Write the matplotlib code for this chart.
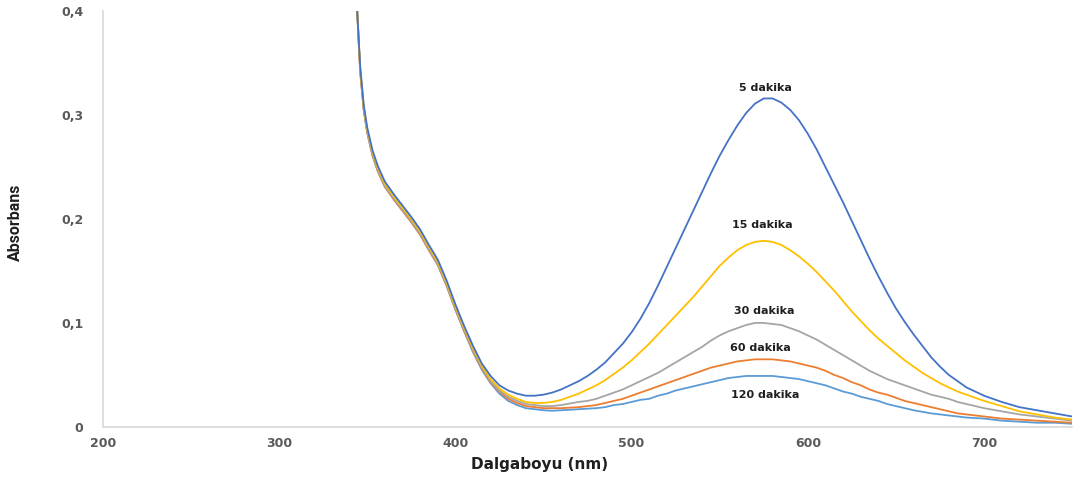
import matplotlib
matplotlib.use("Agg")
import matplotlib.pyplot as plt

# Excel-like palette
BLUE = "#4472C4"
YELLOW = "#FFC000"
GREY = "#A5A5A5"
ORANGE = "#ED7D31"
LBLUE = "#5B9BD5"
TICK = "#595959"
AXIS = "#D9D9D9"
TEXT = "#1F1F1F"

#######################
# DATA

wavelength = [344, 346, 348, 350, 353, 356, 360, 365, 370, 375, 380, 385, 390, 395,
              400, 405, 410, 415, 420, 425, 430, 435, 440, 445, 450, 455, 460,
              470, 475, 480, 485, 490, 495, 500, 505, 510, 515, 520, 525, 530, 535,
              540, 545, 550, 555, 560, 565, 570, 575, 580, 585, 590, 595, 600, 605,
              610, 615, 620, 625, 630, 635, 640, 645, 650, 655, 660, 665, 670, 675,
              680, 685, 690, 695, 700, 710, 720, 730, 740, 750]

abs_5 = [0.410, 0.347, 0.310, 0.288, 0.266, 0.251, 0.236, 0.224, 0.213, 0.202, 0.190,
         0.175, 0.161, 0.141, 0.118, 0.097, 0.078, 0.061, 0.049, 0.040, 0.035, 0.032,
         0.030, 0.030, 0.031, 0.033, 0.036,
         0.044, 0.049, 0.055, 0.062, 0.071, 0.080, 0.091, 0.104, 0.119, 0.136, 0.154,
         0.172, 0.190, 0.208, 0.226, 0.244, 0.261, 0.276, 0.290, 0.302, 0.311, 0.316,
         0.316, 0.312, 0.305, 0.295, 0.282, 0.267, 0.250, 0.233, 0.216, 0.198, 0.180,
         0.162, 0.145, 0.129, 0.114, 0.101, 0.089, 0.078, 0.067, 0.058, 0.050, 0.044,
         0.038, 0.034, 0.030, 0.024, 0.019, 0.016, 0.013, 0.010]

abs_15 = [0.410, 0.345, 0.308, 0.286, 0.264, 0.249, 0.234, 0.222, 0.211, 0.200, 0.188,
          0.173, 0.159, 0.139, 0.116, 0.095, 0.076, 0.059, 0.046, 0.037, 0.031, 0.027,
          0.024, 0.023, 0.023, 0.024, 0.026,
          0.032, 0.036, 0.040, 0.045, 0.051, 0.057, 0.064, 0.072, 0.080, 0.089, 0.098,
          0.107, 0.116, 0.125, 0.135, 0.145, 0.155, 0.163, 0.170, 0.175, 0.178, 0.179,
          0.178, 0.175, 0.170, 0.164, 0.157, 0.149, 0.140, 0.131, 0.121, 0.111, 0.102,
          0.093, 0.085, 0.078, 0.071, 0.064, 0.058, 0.052, 0.047, 0.042, 0.038, 0.034,
          0.031, 0.028, 0.025, 0.020, 0.015, 0.012, 0.009, 0.007]

abs_30 = [0.410, 0.343, 0.306, 0.284, 0.262, 0.247, 0.232, 0.220, 0.209, 0.198, 0.186,
          0.171, 0.157, 0.137, 0.114, 0.093, 0.074, 0.057, 0.044, 0.035, 0.029, 0.025,
          0.022, 0.021, 0.020, 0.020, 0.021,
          0.024, 0.025, 0.027, 0.030, 0.033, 0.036, 0.040, 0.044, 0.048, 0.052, 0.057,
          0.062, 0.067, 0.072, 0.077, 0.083, 0.088, 0.092, 0.095, 0.098, 0.100, 0.100,
          0.099, 0.098, 0.095, 0.092, 0.088, 0.084, 0.079, 0.074, 0.069, 0.064, 0.059,
          0.054, 0.050, 0.046, 0.043, 0.040, 0.037, 0.034, 0.031, 0.029, 0.027, 0.024,
          0.022, 0.020, 0.018, 0.015, 0.012, 0.010, 0.008, 0.006]

abs_60 = [0.410, 0.342, 0.305, 0.283, 0.261, 0.246, 0.231, 0.219, 0.208, 0.197, 0.185,
          0.170, 0.156, 0.136, 0.113, 0.092, 0.073, 0.056, 0.043, 0.034, 0.027, 0.023,
          0.020, 0.019, 0.018, 0.018, 0.018,
          0.019, 0.020, 0.021, 0.023, 0.025, 0.027, 0.030, 0.033, 0.036, 0.039, 0.042,
          0.045, 0.048, 0.051, 0.054, 0.057, 0.059, 0.061, 0.063, 0.064, 0.065, 0.065,
          0.065, 0.064, 0.063, 0.061, 0.059, 0.057, 0.054, 0.050, 0.047, 0.043, 0.040,
          0.036, 0.033, 0.031, 0.028, 0.025, 0.023, 0.021, 0.019, 0.017, 0.015, 0.013,
          0.012, 0.011, 0.010, 0.008, 0.007, 0.006, 0.005, 0.004]

abs_120 = [0.410, 0.342, 0.305, 0.283, 0.261, 0.246, 0.231, 0.219, 0.208, 0.197, 0.185,
           0.170, 0.156, 0.136, 0.113, 0.092, 0.072, 0.055, 0.042, 0.032, 0.025, 0.021,
           0.018, 0.017, 0.016, 0.0155, 0.016,
           0.017, 0.0175, 0.018, 0.019, 0.021, 0.022, 0.024, 0.026, 0.027, 0.030, 0.032,
           0.035, 0.037, 0.039, 0.041, 0.043, 0.045, 0.047, 0.048, 0.049, 0.049, 0.049,
           0.049, 0.048, 0.047, 0.046, 0.044, 0.042, 0.040, 0.037, 0.034, 0.032, 0.029,
           0.027, 0.025, 0.022, 0.020, 0.018, 0.016, 0.0145, 0.013, 0.012, 0.011, 0.010,
           0.009, 0.0085, 0.008, 0.006, 0.005, 0.004, 0.004, 0.003]

labels = ["5 dakika", "15 dakika", "30 dakika", "60 dakika", "120 dakika"]
# where each label sits (nm, absorbance)
label_x = [576, 574, 575, 573, 576]
label_y = [0.326, 0.194, 0.1115, 0.076, 0.031]

x_ticks = [200, 300, 400, 500, 600, 700]
y_ticks = [0, 0.1, 0.2, 0.3, 0.4]
y_tick_labels = ["0", "0,1", "0,2", "0,3", "0,4"]

#######################
# PLOT

fig = plt.figure(figsize=(10.83, 4.84), dpi=100)
ax = fig.add_axes([0.095, 0.118, 0.895, 0.859])

series = [(abs_120, LBLUE), (abs_60, ORANGE), (abs_30, GREY),
          (abs_15, YELLOW), (abs_5, BLUE)]
for values, color in series:
    ax.plot(wavelength, values, color=color, linewidth=1.3)

for text, x, y in zip(labels, label_x, label_y):
    ax.text(x, y, text, ha="center", va="center", fontsize=8,
            fontweight="bold", color=TEXT)

ax.set_xlim(200, 750)
ax.set_ylim(0, 0.4)
ax.set_xticks(x_ticks)
ax.set_yticks(y_ticks)
ax.set_yticklabels(y_tick_labels)

ax.tick_params(axis="x", length=0, pad=7, labelsize=9, labelcolor=TICK)
ax.tick_params(axis="y", length=0, pad=14, labelsize=9, labelcolor=TICK)
for lab in ax.get_xticklabels() + ax.get_yticklabels():
    lab.set_fontweight("bold")

for side in ["top", "right"]:
    ax.spines[side].set_visible(False)
for side in ["left", "bottom"]:
    ax.spines[side].set_color(AXIS)
    ax.spines[side].set_linewidth(1.2)

ax.set_xlabel("Dalgaboyu (nm)", fontsize=11, fontweight="bold", color=TEXT)
ax.xaxis.set_label_coords(0.45, -0.072)
ax.set_ylabel("Absorbans", fontsize=11.5, color=TEXT, fontweight="bold",
              family=["Liberation Sans Narrow", "Roboto"])
ax.yaxis.set_label_coords(-0.082, 0.493)

plt.savefig("out.png", dpi=100)
